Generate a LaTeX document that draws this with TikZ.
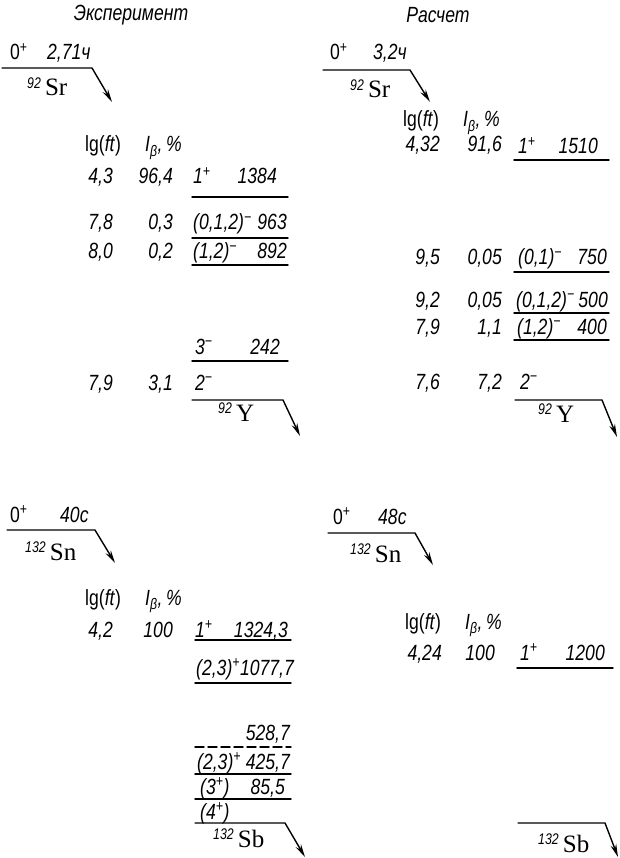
\documentclass[tikz,border=0pt]{standalone}
\usepackage{fontspec}
\setmainfont{Liberation Sans}[FakeStretch=0.8]
\newfontfamily\elemfont{Liberation Serif}
\usetikzlibrary{arrows.meta}
\newcommand{\base}{\fontsize{22}{26}\selectfont}
\newcommand{\nuc}[2]{\textsuperscript{\itshape #1}\,{\elemfont\fontsize{25}{28}\selectfont #2}}
\newcommand{\Ib}{I\textsubscript{β},\,\%}
\tikzset{
  lbl/.style={anchor=base west, inner sep=0pt, font=\base\itshape},
  rlbl/.style={anchor=base east, inner sep=0pt, font=\base\itshape},
  upr/.style={anchor=base west, inner sep=0pt, font=\base},
  lvl/.style={line width=1.4pt},
  decay/.style={line width=1.4pt, -{Stealth[length=13pt,width=6pt]}},
}
\begin{document}
\begin{tikzpicture}[x=1pt, y=-1pt, line join=round, line cap=round]
\useasboundingbox (0,0) rectangle (619,858);
% titles
\node[font=\base\itshape] (tExp) at (131,15) {Эксперимент};
\node[font=\base\itshape] (tCalc) at (438,15) {Расчет};

% 92Sr -> 92Y, experiment
\node[upr] (srEj) at (10,60) {0\textsuperscript{+}};
\node[lbl] (srEt) at (47,60) {2,71ч};
\draw[decay] (2,68) -- (92,68) -- (112,102);
\node[upr] (srE) at (27,96) {\nuc{92}{Sr}};
\node[upr] (hdEa) at (85,152) {lg(\textit{ft})};
\node[lbl] (ibEa) at (145,152) {\Ib};
\foreach \n/\y/\lg/\ib in {a/184/{4,3}/{96,4},b/230/{7,8}/{0,3},c/259/{8,0}/{0,2},d/390/{7,9}/{3,1}}{
  \node[rlbl] (lgE\n) at (113,\y) {\lg};
  \node[rlbl] (pcE\n) at (173,\y) {\ib};}
\foreach \y in {197,238,265,361} \draw[lvl] (192,\y) -- (288,\y);
\node[lbl] (jEa) at (193,184) {1\textsuperscript{+}};
\node[rlbl] (eEa) at (277,184) {1384};
\node[lbl] (jEb) at (193,230) {(0,1,2)\textsuperscript{−}};
\node[rlbl] (eEb) at (287,230) {963};
\node[lbl] (jEc) at (193,259) {(1,2)\textsuperscript{−}};
\node[rlbl] (eEc) at (287,259) {892};
\node[lbl] (jEd) at (195,354) {3\textsuperscript{−}};
\node[rlbl] (eEd) at (280,354) {242};
\node[lbl] (jEe) at (195,390) {2\textsuperscript{−}};
\draw[decay] (192,400) -- (283,400) -- (300,436);
\node[upr] (yE) at (218,421) {\nuc{92}{Y}};

% 92Sr -> 92Y, calculation
\node[upr] (srCj) at (330,60) {0\textsuperscript{+}};
\node[lbl] (srCt) at (373,60) {3,2ч};
\draw[decay] (323,70) -- (410,70) -- (430,102);
\node[upr] (srC) at (350,98) {\nuc{92}{Sr}};
\node[upr] (hdCa) at (403,127) {lg(\textit{ft})};
\node[lbl] (ibCa) at (463,127) {\Ib};
\foreach \n/\y/\lg/\ib in {a/152/{4,32}/{91,6},b/265/{9,5}/{0,05},c/307/{9,2}/{0,05},d/334/{7,9}/{1,1},e/389/{7,6}/{7,2}}{
  \node[rlbl] (lgC\n) at (440,\y) {\lg};
  \node[rlbl] (pcC\n) at (502,\y) {\ib};}
\foreach \y in {160,272,313,340} \draw[lvl] (514,\y) -- (609,\y);
\node[lbl] (jCa) at (518,154) {1\textsuperscript{+}};
\node[rlbl] (eCa) at (598,154) {1510};
\node[lbl] (jCb) at (518,265) {(0,1)\textsuperscript{−}};
\node[rlbl] (eCb) at (607,265) {750};
\node[lbl] (jCc) at (516,307) {(0,1,2)\textsuperscript{−}};
\node[rlbl] (eCc) at (608,307) {500};
\node[lbl] (jCd) at (517,334) {(1,2)\textsuperscript{−}};
\node[rlbl] (eCd) at (607,334) {400};
\node[lbl] (jCe) at (520,389) {2\textsuperscript{−}};
\draw[decay] (515,400) -- (602,400) -- (617,437);
\node[upr] (yC) at (538,422) {\nuc{92}{Y}};

% 132Sn -> 132Sb, experiment
\node[upr] (snEj) at (10,522) {0\textsuperscript{+}};
\node[lbl] (snEt) at (60,522) {40с};
\draw[decay] (7,530) -- (95,530) -- (115,563);
\node[upr] (snE) at (25,560) {\nuc{132}{Sn}};
\node[upr] (hdEb) at (85,605) {lg(\textit{ft})};
\node[lbl] (ibEb) at (145,605) {\Ib};
\node[rlbl] (lgEf) at (113,637) {4,2};
\node[rlbl] (pcEf) at (173,637) {100};
\foreach \y in {640,683,774,799} \draw[lvl] (195,\y) -- (291,\y);
\draw[lvl, dash pattern=on 9pt off 4pt] (195,747) -- (291,747);
\node[lbl] (jSa) at (195,637) {1\textsuperscript{+}};
\node[rlbl] (eSa) at (288,637) {1324,3};
\node[lbl] (jSb) at (196,675) {(2,3)\textsuperscript{+}1077,7};
\node[rlbl] (eSc) at (290,740) {528,7};
\node[lbl] (jSd) at (197,769) {(2,3)\textsuperscript{+}};
\node[rlbl] (eSd) at (290,769) {425,7};
\node[lbl] (jSe) at (200,794) {(3\textsuperscript{+})};
\node[rlbl] (eSe) at (285,794) {85,5};
\node[lbl] (jSf) at (200,819) {(4\textsuperscript{+})};
\draw[decay] (195,823) -- (285,823) -- (305,857);
\node[upr] (sbE) at (213,847) {\nuc{132}{Sb}};

% 132Sn -> 132Sb, calculation
\node[upr] (snCj) at (333,524) {0\textsuperscript{+}};
\node[lbl] (snCt) at (378,524) {48с};
\draw[decay] (328,533) -- (415,533) -- (433,565);
\node[upr] (snC) at (350,562) {\nuc{132}{Sn}};
\node[upr] (hdCb) at (405,629) {lg(\textit{ft})};
\node[lbl] (ibCb) at (465,629) {\Ib};
\node[rlbl] (lgCf) at (442,660) {4,24};
\node[rlbl] (pcCf) at (495,660) {100};
\draw[lvl] (517,668) -- (613,668);
\node[lbl] (jSg) at (520,660) {1\textsuperscript{+}};
\node[rlbl] (eSg) at (605,660) {1200};
\draw[decay] (518,823) -- (605,823) -- (618,857);
\node[upr] (sbC) at (538,852) {\nuc{132}{Sb}};
\end{tikzpicture}
\end{document}
